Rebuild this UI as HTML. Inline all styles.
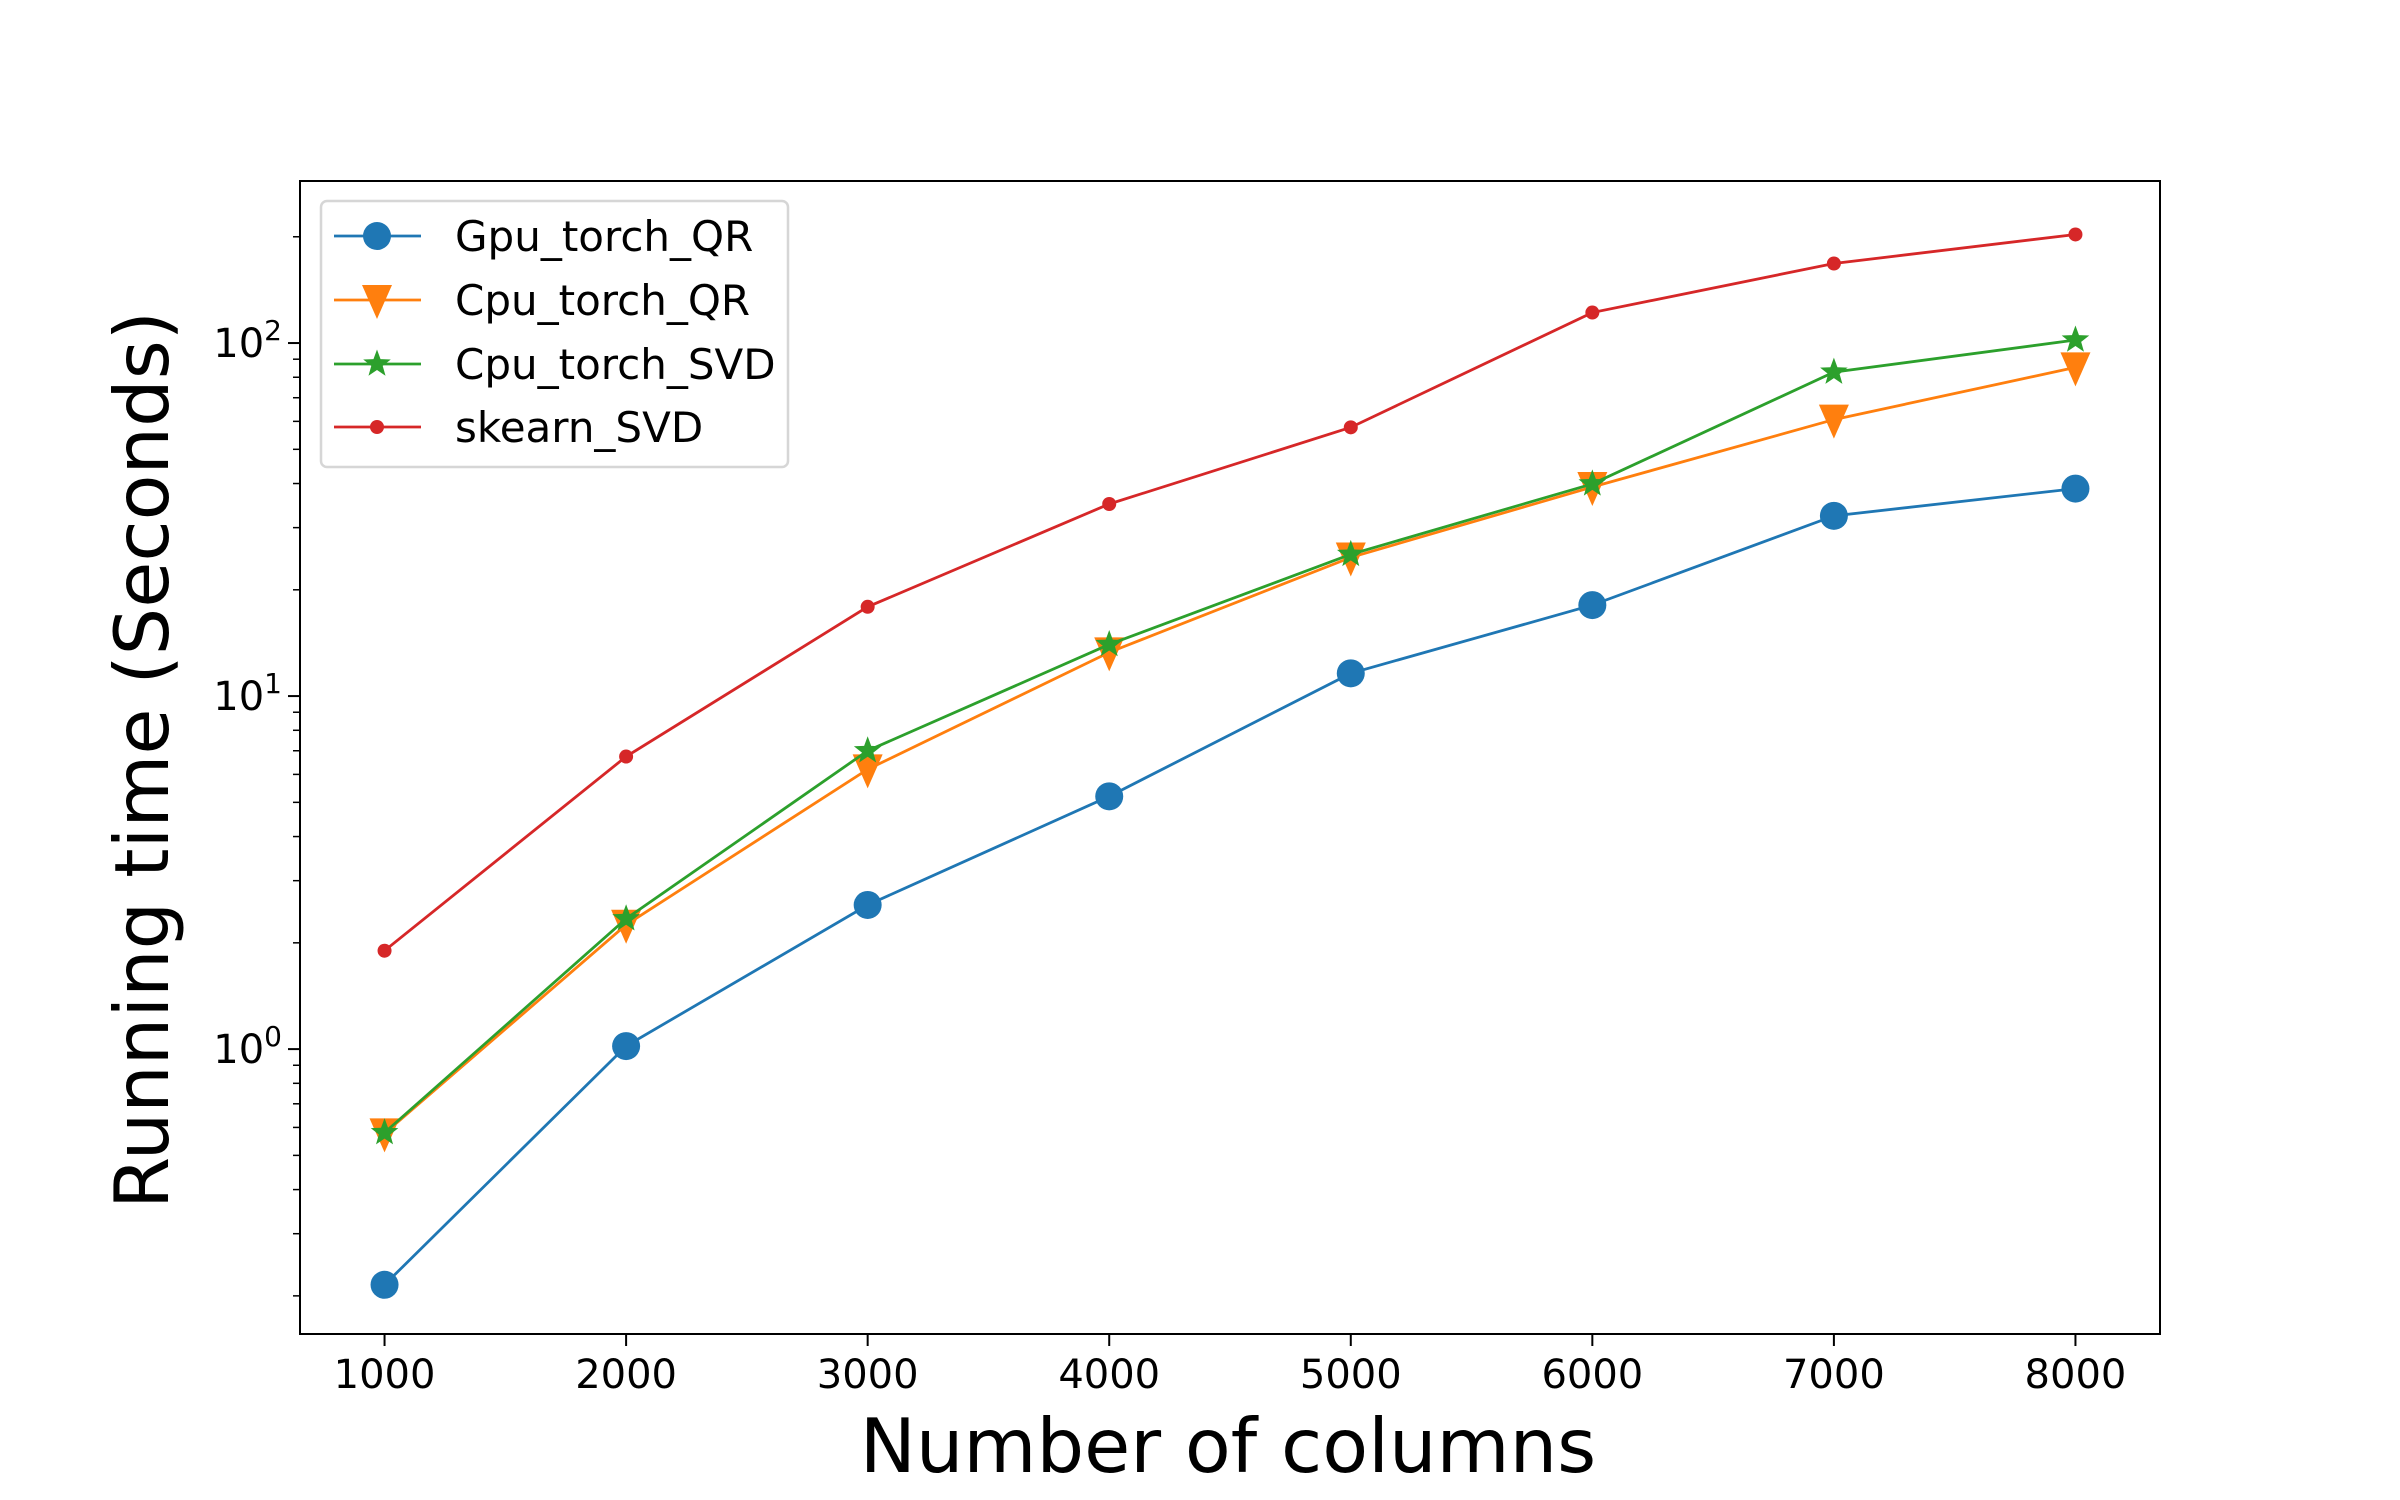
<!DOCTYPE html>
<html><head><meta charset="utf-8"><style>
html,body{margin:0;padding:0;background:#fff;}
svg{display:block;font-family:"DejaVu Sans","Liberation Sans",sans-serif;}
</style></head><body>
<svg id="chart" width="2400" height="1500" viewBox="0 0 2400 1500">
<rect width="2400" height="1500" fill="#fff"/>
<g id="ticks"></g>
<g id="series"></g>
<rect x="300" y="181" width="1860" height="1153" fill="none" stroke="#000" stroke-width="2"/>
<text x="1228" y="1472" font-size="75" text-anchor="middle">Number of columns</text>
<text transform="translate(168,760) rotate(-90)" font-size="75" text-anchor="middle">Running time (Seconds)</text>
<g id="legend"></g>
</svg>
<script>
const categories = [1000,2000,3000,4000,5000,6000,7000,8000];
const gpuQR = [0.215,1.02,2.56,5.2,11.6,18.1,32.4,38.7];
const cpuQR = [0.577,2.25,6.2,13.3,24.7,39.1,60.7,85.3];
const cpuSVD = [0.58,2.34,7.0,14.0,25.2,39.9,82.7,102];
const sklearnSVD = [1.9,6.74,17.9,35.0,57.7,122,168,203];
const seriesNames = ["Gpu_torch_QR","Cpu_torch_QR","Cpu_torch_SVD","skearn_SVD"];
const xTicks = [1000,2000,3000,4000,5000,6000,7000,8000];

const NS="http://www.w3.org/2000/svg";
const L=300,R=2160,T=181,B=1334;
const xMin=650,xMax=8350;
const yLogMin=-0.807,yLogMax=2.459;
function xs(v){return L+(v-xMin)/(xMax-xMin)*(R-L);}
function ys(v){return B-(Math.log10(v)-yLogMin)/(yLogMax-yLogMin)*(B-T);}
function mk(tag,attrs,parent){const e=document.createElementNS(NS,tag);for(const k in attrs)e.setAttribute(k,attrs[k]);parent.appendChild(e);return e;}

const tk=document.getElementById('ticks');
xTicks.forEach(v=>{
  const x=xs(v);
  const l=mk('line',{x1:x,x2:x,y1:B,y2:B+12,stroke:'#000','stroke-width':2},tk);
  
  
  const t=mk('text',{x:x,y:B+54,'font-size':40,'text-anchor':'middle'},tk);
  t.textContent=v;
  
  
});
for(let d=-1;d<=2;d++){
  for(let m=1;m<=9;m++){
    const v=m*Math.pow(10,d);
    if(Math.log10(v)<yLogMin||Math.log10(v)>yLogMax)continue;
    const y=ys(v);
    const major=m===1;
    const l=mk('line',{x1:L-(major?12:7),x2:L,y1:y,y2:y,stroke:'#000','stroke-width':major?2:1.5},tk);
    
    
    if(major){
      const t=mk('text',{x:L-18,y:y+14,'font-size':40,'text-anchor':'end'},tk);
      
      
      const a=document.createElementNS(NS,'tspan');a.textContent='10';t.appendChild(a);
      const b=document.createElementNS(NS,'tspan');b.setAttribute('dy','-17');b.setAttribute('font-size','28');b.textContent=d;t.appendChild(b);
    }
  }
}

const colors=['#1f77b4','#ff7f0e','#2ca02c','#d62728'];
const markers=['circle','tri','star','dot'];
function marker(type,x,y,c,p){
  let e;
  if(type==='circle')e=mk('circle',{cx:x,cy:y,r:14,fill:c},p);
  else if(type==='dot')e=mk('circle',{cx:x,cy:y,r:7,fill:c},p);
  else if(type==='tri'){e=mk('polygon',{points:`${x-15},${y-15} ${x+15},${y-15} ${x},${y+19}`,fill:c},p);}
  else{let pts=[];for(let i=0;i<10;i++){const r=i%2?6:14.5;const a=-Math.PI/2+i*Math.PI/5;pts.push((x+r*Math.cos(a))+','+(y+r*Math.sin(a)));}e=mk('polygon',{points:pts.join(' '),fill:c},p);}
  return e;
}
const sg=document.getElementById('series');
[gpuQR,cpuQR,cpuSVD,sklearnSVD].forEach((vals,i)=>{
  const g=mk('g',{},sg);
  
  
  const pts=categories.map((c,j)=>xs(c)+','+ys(vals[j])).join(' ');
  const pl=mk('polyline',{points:pts,fill:'none',stroke:colors[i],'stroke-width':2.8},g);
  
  
  categories.forEach((c,j)=>{
    const m=marker(markers[i],xs(c),ys(vals[j]),colors[i],g);
    
    
  });
});

const lg=document.getElementById('legend');
const box=mk('rect',{x:321,y:201,width:467,height:266,rx:6,fill:'#fff','fill-opacity':0.8,stroke:'#d6d6d6','stroke-width':2.5},lg);


const ly=[236,300,364,427];
seriesNames.forEach((n,i)=>{
  const g=mk('g',{},lg);
  
  
  mk('line',{x1:334,x2:421,y1:ly[i],y2:ly[i],stroke:colors[i],'stroke-width':2.8},g);
  marker(markers[i],377,ly[i],colors[i],g);
  const t=mk('text',{x:455,y:ly[i]+15,'font-size':42},g);
  t.textContent=n;
});
</script>
</body></html>
